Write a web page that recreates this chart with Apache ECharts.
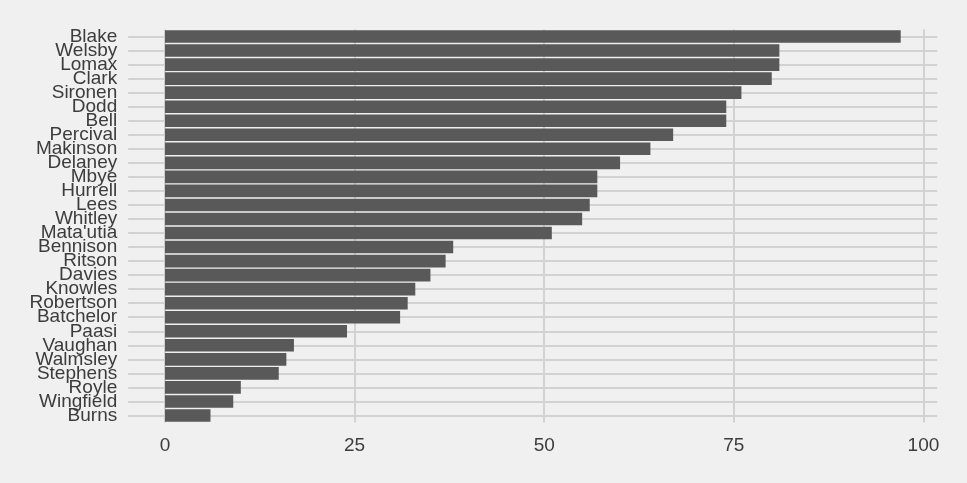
<!DOCTYPE html>
<html>
<head>
<meta charset="utf-8">
<script src="https://cdn.jsdelivr.net/npm/echarts@6/dist/echarts.min.js"></script>
<style>
  html, body { margin: 0; padding: 0; background: #f0f0f0; }
  #main { width: 967px; height: 483px; }
</style>
</head>
<body>
<div id="main"></div>
<script>
var players = ['Blake', 'Welsby', 'Lomax', 'Clark', 'Sironen', 'Dodd', 'Bell', 'Percival',
    'Makinson', 'Delaney', 'Mbye', 'Hurrell', 'Lees', 'Whitley', "Mata'utia", 'Bennison',
    'Ritson', 'Davies', 'Knowles', 'Robertson', 'Batchelor', 'Paasi', 'Vaughan', 'Walmsley',
    'Stephens', 'Royle', 'Wingfield', 'Burns'];
var scores = [97, 81, 81, 80, 76, 74, 74, 67, 64, 60, 57, 57, 56, 55, 51, 38,
    37, 35, 33, 32, 31, 24, 17, 16, 15, 10, 9, 6];
var xTicks = [0, 25, 50, 75, 100];

var myChart = echarts.init(document.getElementById('main'));
var option = {
    backgroundColor: '#f0f0f0',
    animation: false,
    grid: {
        left: 128.2,
        right: 29.5,
        top: 29.5,
        bottom: 60.5
    },
    xAxis: {
        type: 'value',
        min: -4.85,
        max: 101.85,
        axisLine: { show: false },
        axisTick: { show: false, customValues: xTicks },
        axisLabel: {
            customValues: xTicks,
            margin: 14,
            color: '#3c3c3c',
            fontFamily: 'Liberation Sans, Arial, sans-serif',
            fontSize: 19
        },
        splitLine: {
            show: true,
            lineStyle: { color: '#d2d2d2', width: 2 }
        }
    },
    yAxis: {
        type: 'category',
        inverse: true,
        data: players,
        axisLine: { show: false, onZero: false },
        axisTick: {
            show: true,
            alignWithLabel: true,
            inside: true,
            length: 809,
            lineStyle: { color: '#d2d2d2', width: 2 }
        },
        axisLabel: {
            margin: 11,
            color: '#3c3c3c',
            fontFamily: 'Liberation Sans, Arial, sans-serif',
            fontSize: 19,
            interval: 0
        },
        splitLine: { show: false }
    },
    series: [{
        type: 'bar',
        data: scores,
        barCategoryGap: '10%',
        itemStyle: { color: '#595959' }
    }]
};
myChart.setOption(option);
</script>
</body>
</html>
